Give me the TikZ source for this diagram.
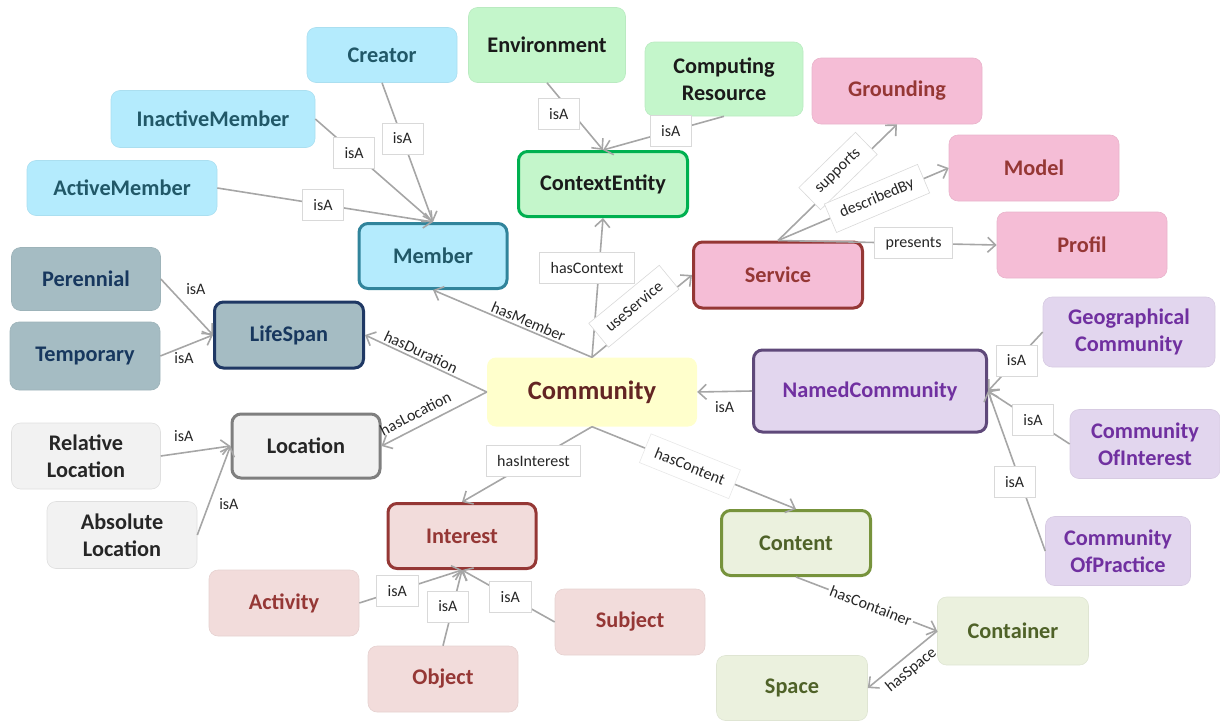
\documentclass[tikz,border=0pt]{standalone}
\usepackage{fontspec}
\setmainfont{Carlito}
\usetikzlibrary{arrows.meta}
\definecolor{blueF}{HTML}{B4EBFD}
\definecolor{blueT}{HTML}{215868}
\definecolor{blueB}{HTML}{31849B}
\definecolor{greenF}{HTML}{C4F6CB}
\definecolor{greenB}{HTML}{00B050}
\definecolor{greenT}{HTML}{1A1A1A}
\definecolor{pinkF}{HTML}{F5BDD6}
\definecolor{pinkT}{HTML}{953735}
\definecolor{navyF}{HTML}{A5BCC3}
\definecolor{navyT}{HTML}{17375E}
\definecolor{navyB}{HTML}{1F3864}
\definecolor{yelF}{HTML}{FFFFCC}
\definecolor{yelT}{HTML}{632523}
\definecolor{purF}{HTML}{E2D6EE}
\definecolor{purT}{HTML}{7030A0}
\definecolor{purB}{HTML}{5F497A}
\definecolor{grayF}{HTML}{F2F2F2}
\definecolor{grayT}{HTML}{262626}
\definecolor{grayB}{HTML}{7F7F7F}
\definecolor{intF}{HTML}{F2DCDB}
\definecolor{oliF}{HTML}{EBF1DE}
\definecolor{oliT}{HTML}{4F6228}
\definecolor{oliB}{HTML}{77933C}
\definecolor{edgeC}{HTML}{A6A6A6}
\definecolor{lblB}{HTML}{D9D9D9}
\begin{document}
\begin{tikzpicture}[x=1pt,y=-1pt,
  base/.style={rounded corners=9pt, font=\fontsize{22.3}{27}\selectfont\bfseries, align=center, inner sep=0pt},
  sub/.style={base, line width=0.6pt},
  mainb/.style={base, line width=3pt},
  blueS/.style={sub, fill=blueF, draw=blueF!95!black, text=blueT},
  blueM/.style={mainb, fill=blueF, draw=blueB, text=blueT},
  greenS/.style={sub, fill=greenF, draw=greenF!95!black, text=greenT},
  greenM/.style={mainb, fill=greenF, draw=greenB, text=greenT},
  pinkS/.style={sub, fill=pinkF, draw=pinkF!95!black, text=pinkT},
  pinkM/.style={mainb, fill=pinkF, draw=pinkT, text=pinkT},
  navyS/.style={sub, fill=navyF, draw=navyF!95!black, text=navyT},
  navyM/.style={mainb, fill=navyF, draw=navyB, text=navyT},
  purS/.style={sub, fill=purF, draw=purF!95!black, text=purT},
  purM/.style={mainb, fill=purF, draw=purB, text=purT},
  grayS/.style={sub, fill=grayF, draw=grayF!92!black, text=grayT},
  grayM/.style={mainb, fill=grayF, draw=grayB, text=grayT},
  intS/.style={sub, fill=intF, draw=intF!95!black, text=pinkT},
  intM/.style={mainb, fill=intF, draw=pinkT, text=pinkT},
  oliS/.style={sub, fill=oliF, draw=oliF!95!black, text=oliT},
  oliM/.style={mainb, fill=oliF, draw=oliB, text=oliT},
  ed/.style={draw=edgeC, line width=1.6pt, -{Straight Barb[length=8pt,width=15pt]}},
  lbox/.style={fill=white, draw=lblB, line width=0.6pt, font=\fontsize{16}{19}\selectfont, text=black!85, inner xsep=11pt, minimum height=31pt, inner ysep=0pt},
  ltxt/.style={font=\fontsize{16}{19}\selectfont, text=black!85, inner sep=2pt},
  lwht/.style={ltxt, fill=white}
]
\useasboundingbox (0,0) rectangle (1220,720);

% ---- nodes ----
\node[blueS, minimum width=150, minimum height=55] (creator) at (382,55) {Creator};
\node[blueS, minimum width=204, minimum height=57] (inactive) at (213,119) {InactiveMember};
\node[blueS, minimum width=190, minimum height=55] (active) at (122,188) {ActiveMember};
\node[blueM, minimum width=148, minimum height=65] (member) at (433,256) {Member};

\node[greenS, minimum width=157, minimum height=75] (env) at (547,45) {Environment};
\node[greenS, minimum width=158, minimum height=74] (comp) at (724,79) {Computing\\Resource};
\node[greenM, minimum width=169, minimum height=65] (context) at (603,184) {ContextEntity};

\node[pinkS, minimum width=170, minimum height=66] (grounding) at (897,91) {Grounding};
\node[pinkS, minimum width=170, minimum height=66] (model) at (1034,168) {Model};
\node[pinkS, minimum width=170, minimum height=66] (profil) at (1082,245) {Profil};
\node[pinkM, minimum width=169, minimum height=66] (service) at (778,275) {Service};

\node[navyS, minimum width=149, minimum height=63] (perennial) at (86,279) {Perennial};
\node[navyS, minimum width=150, minimum height=68] (temporary) at (85,356) {Temporary};
\node[navyM, minimum width=149, minimum height=66] (lifespan) at (289,335) {LifeSpan};

\node[base, fill=yelF, text=yelT, minimum width=210, minimum height=69, font=\fontsize{26.5}{31}\selectfont\bfseries] (community) at (592,392) {Community};

\node[purM, minimum width=233, minimum height=82] (named) at (870,391) {NamedCommunity};
\node[purS, minimum width=172, minimum height=70] (geo) at (1129,332) {Geographical\\Community};
\node[purS, minimum width=150, minimum height=69] (coi) at (1145,444) {Community\\OfInterest};
\node[purS, minimum width=145, minimum height=69] (cop) at (1118,551) {Community\\OfPractice};

\node[grayS, minimum width=149, minimum height=66] (relloc) at (86,456) {Relative\\Location};
\node[grayS, minimum width=150, minimum height=67] (absloc) at (122,535) {Absolute\\Location};
\node[grayM, minimum width=148, minimum height=64] (location) at (306,446) {Location};

\node[intM, minimum width=148, minimum height=65] (interest) at (462,536) {Interest};
\node[intS, minimum width=150, minimum height=66] (activity) at (284,603) {Activity};
\node[intS, minimum width=150, minimum height=66] (object) at (443,679) {Object};
\node[intS, minimum width=150, minimum height=66] (subject) at (630,622) {Subject};

\node[oliM, minimum width=149, minimum height=65] (content) at (796,543) {Content};
\node[oliS, minimum width=151, minimum height=68] (container) at (1013,631) {Container};
\node[oliS, minimum width=151, minimum height=65] (space) at (792,688) {Space};

% ---- edges ----
\draw[ed] (creator.south) -- node[lbox, pos=0.4] {isA} (member.north);
\draw[ed] (inactive.east) -- node[lbox, pos=0.33] {isA} (member.north);
\draw[ed] (active.east) -- node[lbox, pos=0.49] {isA} (member.north);

\draw[ed] (env.south) -- node[lbox, pos=0.46, xshift=-14pt] {isA} (context.north);
\draw[ed] (comp.south) -- node[lbox, pos=0.44] {isA} (context.north);

\draw[ed] (community.north) -- node[lbox, pos=0.64, xshift=-12pt] {hasContext} (context.south);
\draw[ed] (community.north) -- node[ltxt, pos=0.42, sloped, above] {hasMember} (member.south);
\draw[ed] (community.north) -- node[lbox, pos=0.5, sloped, above=-3pt] {useService} (service.west);

\draw[ed] (service.north) -- node[lbox, pos=0.55, sloped, above=-8pt] {supports} (grounding.south);
\draw[ed] (service.north) -- node[lbox, pos=0.58, sloped] {describedBy} (model.west);
\draw[ed] (service.north) -- node[lbox, pos=0.62] {presents} (profil.west);

\draw[ed] (community.west) -- node[ltxt, pos=0.57, sloped, above] {hasDuration} (lifespan.east);
\draw[ed] (community.west) -- node[ltxt, pos=0.62, sloped, above=5pt] {hasLocation} (location.east);

\draw[ed] (perennial.east) -- node[ltxt, pos=0.5, xshift=9pt, yshift=18pt] {isA} (lifespan.west);
\draw[ed] (temporary.east) -- node[ltxt, pos=0.45, yshift=-11pt] {isA} (lifespan.west);
\draw[ed] (relloc.east) -- node[ltxt, pos=0.33, yshift=17pt] {isA} (location.west);
\draw[ed] (absloc.east) -- node[ltxt, pos=0.35, xshift=20pt] {isA} (location.west);

\draw[ed] (named.west) -- node[ltxt, pos=0.5, yshift=-16pt] {isA} (community.east);
\draw[ed] (geo.west) -- node[lbox, pos=0.48] {isA} (named.east);
\draw[ed] (coi.west) -- node[lbox, pos=0.45] {isA} (named.east);
\draw[ed] (cop.west) -- node[lbox, pos=0.43, xshift=-6pt] {isA} (named.east);

\draw[ed] (community.south) -- node[lbox, pos=0.45] {hasInterest} (interest.north);
\draw[ed] (community.south) -- node[lbox, pos=0.48, sloped, draw=lblB!60] {hasContent} (content.north);

\draw[ed] (activity.east) -- node[lbox, pos=0.37] {isA} (interest.south);
\draw[ed] (object.north) -- node[lbox, pos=0.52, xshift=-5pt] {isA} (interest.south);
\draw[ed] (subject.west) -- node[lbox, pos=0.48] {isA} (interest.south);

\draw[ed] (content.south) -- node[lwht, pos=0.53, sloped] {hasContainer} (container.west);
\draw[ed] (container.west) -- node[ltxt, pos=0.5, sloped, below=4pt] {hasSpace} (space.east);
\end{tikzpicture}
\end{document}
